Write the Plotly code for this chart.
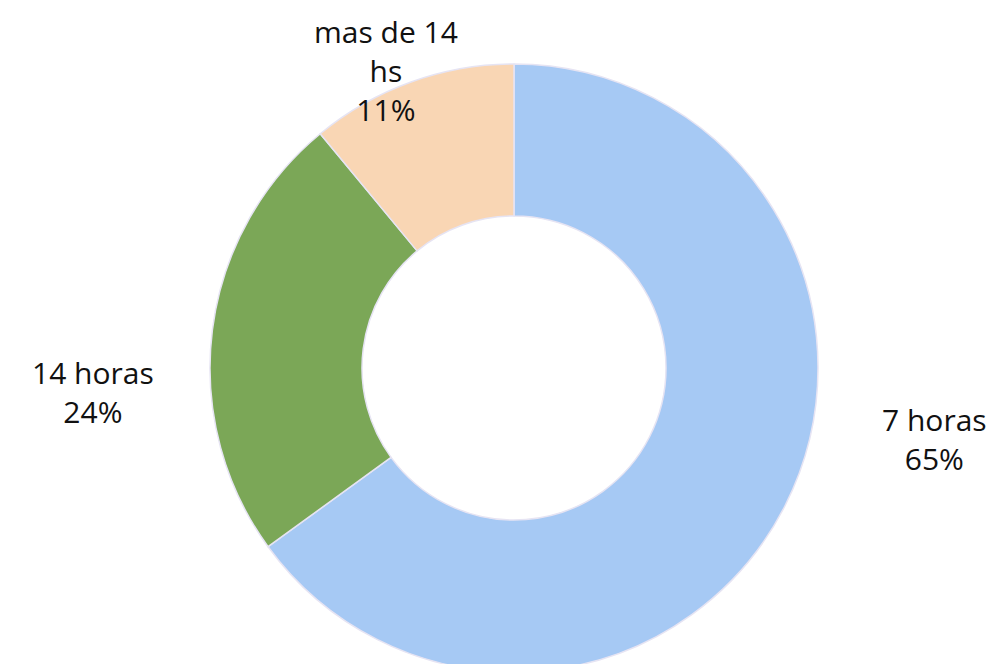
import plotly.graph_objects as go

labels = ["7 horas", "14 horas", "mas de 14<br>hs"]
values = [65, 24, 11]
pct_text = ["65%", "24%", "11%"]
colors = ["#a6c9f4", "#7ba757", "#f9d6b4"]

# label anchor positions in paper coords (layout only)
label_pos = [(0.930, 0.383), (0.0695, 0.460), (0.369, 0.990)]

fig = go.Figure(go.Pie(
    labels=labels,
    values=values,
    hole=0.5,
    sort=False,
    direction="clockwise",
    rotation=0,
    marker=dict(colors=colors, line=dict(color="#e6e4f3", width=1.5)),
    textinfo="none",
    hoverinfo="label+percent",
    showlegend=False,
    automargin=False,
))

for lab, pct, (x, y) in zip(labels, pct_text, label_pos):
    fig.add_annotation(
        x=x, y=y, xref="paper", yref="paper",
        text=f"{lab}<br>{pct}", showarrow=False,
        xanchor="center", yanchor="middle",
        borderpad=0,
        font=dict(family="Open Sans, Noto Sans, sans-serif", size=30, color="#111111"),
    )

fig.update_layout(
    width=995, height=664,
    margin=dict(l=17, r=0, t=56, b=0),
    paper_bgcolor="white",
    plot_bgcolor="white",
)

fig.write_html("out.html")
